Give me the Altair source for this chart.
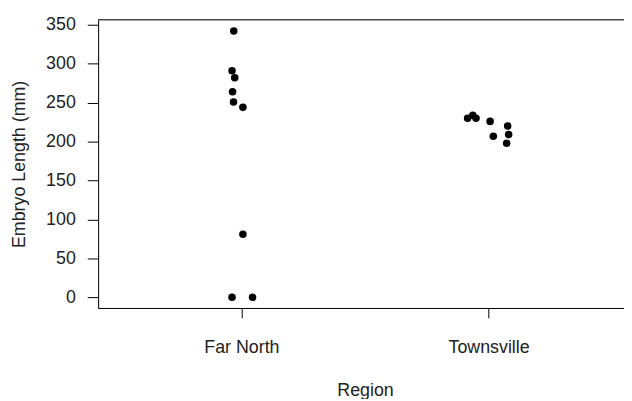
import altair as alt
import pandas as pd

regions = ["Far North", "Townsville"]
far_north_lengths = [342, 291, 282, 264, 251, 244, 81, 0, 0]
far_north_jitter = [-0.031, -0.038, -0.027, -0.036, -0.032, 0.006, 0.006, -0.038, 0.045]
townsville_lengths = [230, 234, 230, 226, 207, 220, 209, 198]
townsville_jitter = [-0.085, -0.064, -0.051, 0.006, 0.019, 0.077, 0.081, 0.073]
y_ticks = [0, 50, 100, 150, 200, 250, 300, 350]

rows = []
for i, (lens, jit) in enumerate([(far_north_lengths, far_north_jitter),
                                 (townsville_lengths, townsville_jitter)]):
    for v, j in zip(lens, jit):
        rows.append({"region": regions[i], "idx": i + 1, "jitter": j, "length": v})
df = pd.DataFrame(rows)

FONT = "Liberation Sans"
W, H = 531, 291

points = alt.Chart(df).transform_calculate(
    xpos="datum.idx + datum.jitter"
).mark_circle(size=58, color="black", opacity=1).encode(
    x=alt.X("xpos:Q",
            scale=alt.Scale(domain=[0.4203, 2.5477], nice=False, zero=False),
            axis=alt.Axis(values=[1, 2],
                          labelExpr="datum.value == 1 ? 'Far North' : 'Townsville'",
                          title="Region", tickSize=10, labelPadding=21,
                          titlePadding=25, titleX=269.5, grid=False,
                          domainColor="black", tickColor="black",
                          labelColor="#222", titleColor="#222",
                          labelFont=FONT, titleFont=FONT,
                          labelFontSize=18, titleFontSize=18,
                          titleFontWeight="normal")),
    y=alt.Y("length:Q",
            scale=alt.Scale(domain=[-13.7, 356.5], nice=False, zero=False),
            axis=alt.Axis(values=y_ticks, title="Embryo Length (mm)",
                          tickSize=11, labelPadding=12, titlePadding=17,
                          grid=False, domainColor="black", tickColor="black",
                          labelColor="#222", titleColor="#222",
                          labelFont=FONT, titleFont=FONT,
                          labelFontSize=18, titleFontSize=18,
                          titleFontWeight="normal")),
)

top_line = alt.Chart(pd.DataFrame({"a": [0]})).mark_rule(color="black", strokeWidth=1).encode(
    x=alt.value(0), x2=alt.value(W), y=alt.value(0)
)

chart = alt.layer(points, top_line).properties(
    width=W, height=H,
    padding={"left": 91, "top": 10, "right": 0, "bottom": 90},
    autosize=alt.AutoSizeParams(type="none"),
).configure_view(stroke=None).configure(background="white")

chart.save("out.html", embed_options={"renderer": "svg", "actions": False})
